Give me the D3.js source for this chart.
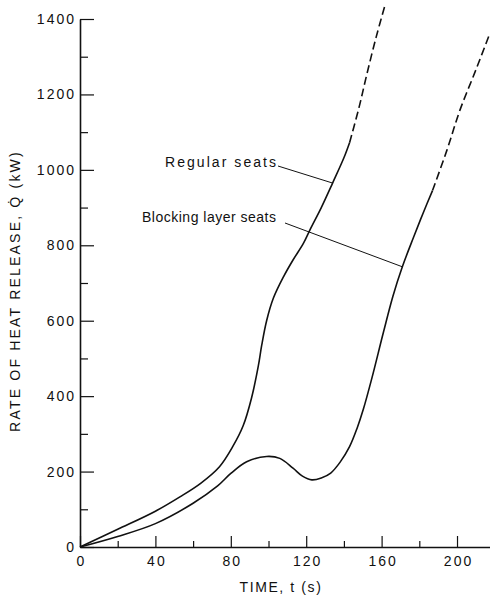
<!DOCTYPE html>
<html>
<head>
<meta charset="utf-8">
<script src="https://cdn.jsdelivr.net/npm/d3@7"></script>
<style>
  html, body { margin: 0; padding: 0; background: #fff; }
  svg { display: block; }
  text { font-family: "Liberation Sans", Arial, Helvetica, sans-serif; fill: #111; }
</style>
</head>
<body>
<svg id="chart" width="490" height="599"></svg>
<script>
// Heat release rate of a seat arrangement, measured (solid) and extrapolated (dashed)
const regularTime   = [0, 20, 40, 53, 64, 74, 81, 86.6, 91, 94.6, 96.4, 99, 102.6, 108, 113, 118.5, 122, 128, 134, 140, 143];
const regularQ      = [0, 47, 95, 133, 169, 213, 266, 322, 395, 480, 535, 600, 660, 717, 761, 805, 841, 900, 965, 1032, 1072];
const regularDashT  = [143, 148, 152, 157, 162];
const regularDashQ  = [1072, 1165, 1250, 1350, 1440];

const blockingTime  = [0, 20, 40, 60, 73, 80, 88.4, 99, 106, 113, 118, 123, 128, 133, 138, 143, 147, 150.3, 154.7, 161, 166, 171, 177, 182, 187];
const blockingQ     = [0, 28, 62, 116, 162, 195, 226, 240, 235, 209, 188, 178, 183, 196, 225, 266, 315, 365, 445, 570, 665, 743, 822, 885, 945];
const blockingDashT = [187, 194.7, 201.6, 210, 217.5];
const blockingDashQ = [945, 1053, 1159, 1265, 1363];

const xTickLabels = [0, 40, 80, 120, 160, 200];
const xMinorTicks = [20, 60, 100, 140, 180];
const yTickLabels = [0, 200, 400, 600, 800, 1000, 1200, 1400];
const yMinorTicks = [100, 300, 500, 700, 900, 1100, 1300];

const svg = d3.select("#chart");

const x = d3.scaleLinear().domain([0, 217.5]).range([80, 490]);
const y = d3.scaleLinear().domain([0, 1400]).range([547, 19]);

const ink = "#111";

// x axis: inward ticks, labelled majors and short minors
const xAxis = svg.append("g").attr("transform", `translate(0,${y(0)})`)
  .call(d3.axisBottom(x).tickValues(xTickLabels).tickSizeInner(-11).tickSizeOuter(0).tickPadding(9)
    .tickFormat(d3.format("d")));
svg.append("g").attr("transform", `translate(0,${y(0)})`)
  .call(d3.axisBottom(x).tickValues(xMinorTicks).tickSizeInner(-6).tickSizeOuter(0).tickFormat(""))
  .call(g => g.select(".domain").remove());

// y axis
svg.append("g").attr("transform", `translate(${x(0)},0)`)
  .call(d3.axisLeft(y).tickValues(yTickLabels).tickSizeInner(-14).tickSizeOuter(0).tickPadding(4)
    .tickFormat(d3.format("d")));
svg.append("g").attr("transform", `translate(${x(0)},0)`)
  .call(d3.axisLeft(y).tickValues(yMinorTicks).tickSizeInner(-8).tickSizeOuter(0).tickFormat(""))
  .call(g => g.select(".domain").remove());

svg.selectAll(".domain").attr("stroke", ink).attr("stroke-width", 1.6);
svg.selectAll(".tick line").attr("stroke", ink).attr("stroke-width", 1.2);
svg.selectAll(".tick text")
  .attr("font-family", "Liberation Sans, Arial, sans-serif")
  .attr("font-size", 14)
  .attr("letter-spacing", 2)
  .attr("fill", ink);
xAxis.selectAll(".tick text").attr("dx", 1);

// axis titles
svg.append("text")
  .attr("x", 281).attr("y", 592)
  .attr("text-anchor", "middle")
  .attr("font-size", 14).attr("letter-spacing", 1.6)
  .text("TIME, t (s)");

svg.append("text")
  .attr("transform", "translate(20,291) rotate(-90)")
  .attr("text-anchor", "middle")
  .attr("font-size", 14).attr("letter-spacing", 2.2)
  .text("RATE OF HEAT RELEASE, Q\u0307 (kW)");

// curves
const line = d3.line().x(d => x(d[0])).y(d => y(d[1])).curve(d3.curveCatmullRom.alpha(0.5));
const pairs = (ts, qs) => ts.map((t, i) => [t, qs[i]]);

const series = [
  { pts: pairs(regularTime, regularQ), dash: null },
  { pts: pairs(regularDashT, regularDashQ), dash: "8,4" },
  { pts: pairs(blockingTime, blockingQ), dash: null },
  { pts: pairs(blockingDashT, blockingDashQ), dash: "8,4" }
];
svg.append("g").selectAll("path").data(series).join("path")
  .attr("d", d => line(d.pts))
  .attr("fill", "none")
  .attr("stroke", ink)
  .attr("stroke-width", 1.6)
  .attr("stroke-dasharray", d => d.dash);

// curve labels with leader lines
const labels = [
  { text: "Regular seats", tx: 165, ty: 167, len: 111, lx: 278, ly: 166, t: 134, q: 965 },
  { text: "Blocking layer seats", tx: 142, ty: 222, len: 134, lx: 285, ly: 223, t: 171, q: 743 }
];
const lab = svg.append("g");
labels.forEach(l => {
  lab.append("text")
    .attr("x", l.tx).attr("y", l.ty)
    .attr("font-size", 14)
    .attr("textLength", l.len).attr("lengthAdjust", "spacing")
    .text(l.text);
  lab.append("line")
    .attr("x1", l.lx).attr("y1", l.ly)
    .attr("x2", x(l.t)).attr("y2", y(l.q))
    .attr("stroke", ink).attr("stroke-width", 1);
});
</script>
</body>
</html>
